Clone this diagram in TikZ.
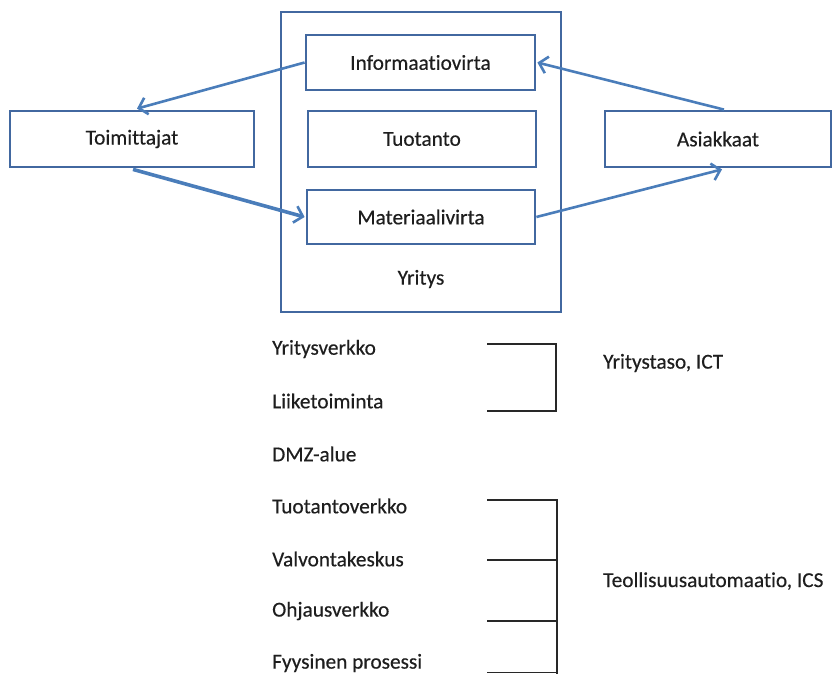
\documentclass[tikz,border=0pt]{standalone}
\usepackage{fontspec}
\setmainfont{Carlito}[Ligatures=NoCommon, FakeBold=0.4]
\usetikzlibrary{arrows.meta,calc}
\definecolor{boxblue}{RGB}{66,104,160}
\definecolor{flowblue}{RGB}{74,125,186}
\definecolor{brk}{RGB}{40,40,40}
\tikzset{
  x=1pt,y=-1pt,
  every node/.style={font=\fontsize{21.3}{25}\selectfont, text={rgb,255:red,30;green,30;blue,30}},
  blockbox/.style={draw=boxblue, line width=2.8pt, inner sep=0pt},
  flow/.style={draw=flowblue, line width=2.6pt, -{Straight Barb[length=8pt,width=17pt,line width=2.6pt]}},
  thickflow/.style={flow, line width=3.6pt},
  item/.style={anchor=west, inner sep=0pt},
  bracket/.style={draw=brk, line width=1.6pt},
}
\begin{document}
\begin{tikzpicture}
\useasboundingbox (0,0) rectangle (833,673);

% company frame and its three inner blocks
\node[blockbox, minimum width=280pt, minimum height=300pt] (yritys) at (421,162) {};
\node (yrityslbl) at (421,279) {Yritys};
\node[blockbox, minimum width=229pt, minimum height=55pt] (info) at (420.5,62.5) {Informaatiovirta};
\node[blockbox, minimum width=228pt, minimum height=56pt] (tuot) at (422,139) {Tuotanto};
\node[blockbox, minimum width=228pt, minimum height=54pt] (mat) at (421,217) {Materiaalivirta};

% partners
\node[blockbox, minimum width=244pt, minimum height=56pt] (toim) at (132,139) {Toimittajat};
\node[blockbox, minimum width=226pt, minimum height=56pt] (asi) at (718,139) {Asiakkaat};

% flows
\draw[flow] (info.west) -- ($(toim.north)+(5,-1)$);
\draw[thickflow] ($(toim.south)+(1,1)$) -- ($(mat.west)+(-1,0)$);
\draw[flow] ($(asi.north)+(6,0)$) -- ($(info.east)+(1,0)$);
\draw[flow] (mat.east) -- ($(asi.south)+(4,1)$);

% network levels
\node[item] (l1) at (272,349) {Yritysverkko};
\node[item] (l2) at (272,401) {Liiketoiminta};
\node[item] (l3) at (272,454) {DMZ-alue};
\node[item] (l4) at (272,506) {Tuotantoverkko};
\node[item] (l5) at (272,559) {Valvontakeskus};
\node[item] (l6) at (272,611) {Ohjausverkko};
\node[item] (l7) at (272,663) {Fyysinen prosessi};

\node[item] (ict) at (603,363) {Yritystaso, ICT};
\node[item] (ics) at (603,581) {Teollisuusautomaatio, ICS};

% grouping brackets
\coordinate (b1a) at (487,344);
\coordinate (b1b) at (487,411);
\draw[bracket] (b1a) -| (556,411) -- (b1b);

\coordinate (b2a) at (487,500);
\coordinate (b2s) at (557,680);
\draw[bracket] (b2a) -| (b2s);
\draw[bracket] (487,560) -- (557,560);
\draw[bracket] (487,621) -- (557,621);
\draw[bracket] (487,672.5) -- (557,672.5);
\end{tikzpicture}
\end{document}
